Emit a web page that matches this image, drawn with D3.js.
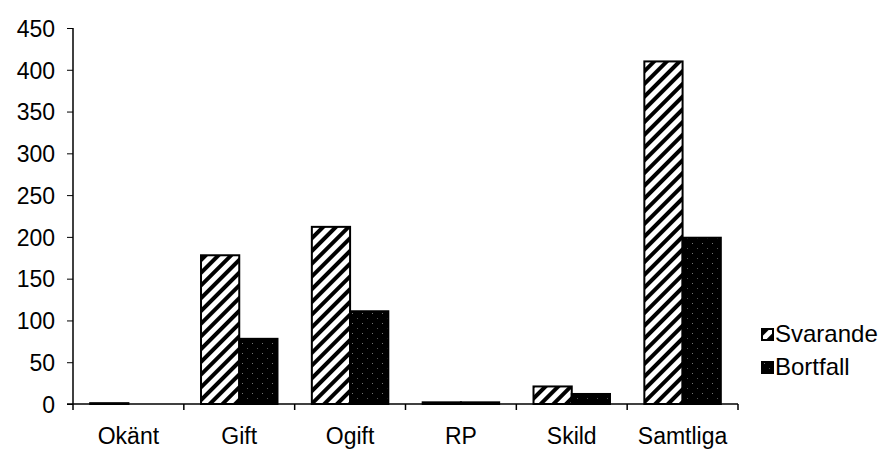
<!DOCTYPE html>
<html>
<head>
<meta charset="utf-8">
<script src="https://cdn.jsdelivr.net/npm/d3@7"></script>
<style>
body { margin: 0; background: #fff; }
text { font-family: "Liberation Sans", Arial, sans-serif; }
</style>
</head>
<body>
<script>
// data
var categories = ["Okänt", "Gift", "Ogift", "RP", "Skild", "Samtliga"];
var seriesNames = ["Svarande", "Bortfall"];
var svarande = [1, 178, 212, 2, 21, 410];
var bortfall = [0, 78, 111, 2, 12, 199];
var yTicks = [0, 50, 100, 150, 200, 250, 300, 350, 400, 450];

var width = 888, height = 450;
var fontSize = 23;
var svg = d3.select("body").append("svg").attr("width", width).attr("height", height);

var defs = svg.append("defs");
// hatch pattern
var hatch = defs.append("pattern").attr("id", "hatch").attr("patternUnits", "userSpaceOnUse")
	.attr("width", 9).attr("height", 9).attr("patternTransform", "rotate(45)");
hatch.append("rect").attr("width", 9).attr("height", 9).attr("fill", "#fff");
hatch.append("rect").attr("x", 0).attr("y", 0).attr("width", 4).attr("height", 9).attr("fill", "#000");
// dotted black
var dots = defs.append("pattern").attr("id", "dots").attr("patternUnits", "userSpaceOnUse")
	.attr("width", 10).attr("height", 10);
dots.append("rect").attr("width", 10).attr("height", 10).attr("fill", "#000");
dots.append("rect").attr("x", 2).attr("y", 3).attr("width", 1).attr("height", 1).attr("fill", "#777");
dots.append("rect").attr("x", 7).attr("y", 8).attr("width", 1).attr("height", 1).attr("fill", "#555");

var plot = {x0: 73, x1: 738, y0: 404, y1: 28};

var x = d3.scaleBand().domain(categories).range([plot.x0, plot.x1]).paddingInner(0.31).paddingOuter(0.155);
var xs = d3.scaleBand().domain(seriesNames).range([0, x.bandwidth()]);
var y = d3.scaleLinear().domain([0, 450]).range([plot.y0, plot.y1]);

var fills = {"Svarande": "url(#hatch)", "Bortfall": "url(#dots)"};
var values = {"Svarande": svarande, "Bortfall": bortfall};

// bars
seriesNames.forEach(function(s){
	svg.append("g").selectAll("rect").data(categories).enter().append("rect")
		.attr("x", function(c){ return x(c) + xs(s); })
		.attr("y", function(c, i){ return y(values[s][i]); })
		.attr("width", xs.bandwidth())
		.attr("height", function(c, i){ return plot.y0 - y(values[s][i]); })
		.attr("fill", fills[s])
		.attr("stroke", "#000").attr("stroke-width", 2);
});

// y axis
var yAxis = svg.append("g").attr("transform", "translate(" + plot.x0 + ",0)")
	.call(d3.axisLeft(y).tickValues(yTicks).tickSize(6).tickPadding(12).tickFormat(d3.format("d")));
yAxis.attr("font-size", fontSize).attr("font-family", null);
yAxis.select(".domain").attr("stroke", "#000").attr("stroke-width", 1.5).attr("d", "M0," + plot.y0 + "V" + plot.y1);
yAxis.selectAll("text").attr("fill", "#000").attr("dy", "0.36em");

// x axis
var xAxis = svg.append("g").attr("transform", "translate(0," + plot.y0 + ")");
xAxis.append("line").attr("x1", plot.x0 - 6).attr("x2", plot.x1).attr("stroke", "#000").attr("stroke-width", 1.5);
var step = (plot.x1 - plot.x0) / categories.length;
d3.range(categories.length + 1).forEach(function(i){
	xAxis.append("line").attr("x1", plot.x0 + i * step).attr("x2", plot.x0 + i * step)
		.attr("y1", 0).attr("y2", 6).attr("stroke", "#000").attr("stroke-width", 1.5);
});
xAxis.selectAll("text.cat").data(categories).enter().append("text").attr("class", "cat")
	.attr("x", function(c){ return x(c) + x.bandwidth() / 2; })
	.attr("y", 40).attr("text-anchor", "middle").attr("font-size", fontSize).attr("fill", "#000")
	.text(function(c){ return c; });

// legend
var legend = svg.append("g").attr("transform", "translate(762,0)");
seriesNames.forEach(function(s, i){
	var ly = 329 + i * 33;
	legend.append("rect").attr("x", 0).attr("y", ly).attr("width", 11).attr("height", 11)
		.attr("fill", fills[s]).attr("stroke", "#000").attr("stroke-width", 2);
	legend.append("text").attr("x", 13).attr("y", ly + 13).attr("font-size", 24).attr("fill", "#000").text(s);
});
</script>
</body>
</html>
